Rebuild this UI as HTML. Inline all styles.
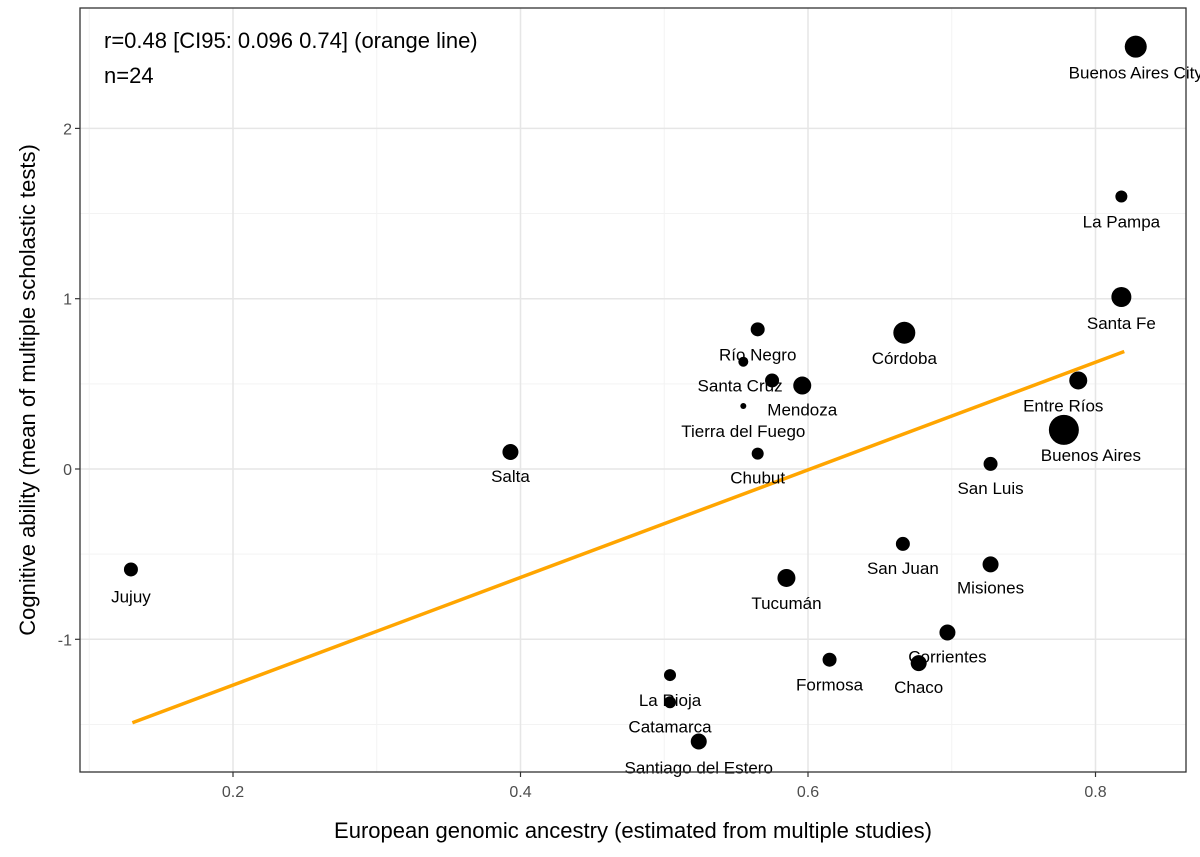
<!DOCTYPE html>
<html><head><meta charset="utf-8"><style>
html,body{margin:0;padding:0;background:#fff}
svg{display:block;font-family:"Liberation Sans",Arial,sans-serif}
</style></head><body>
<svg id="chart" width="1200" height="857"></svg>
<script>
const provinces=["Buenos Aires City","La Pampa","Santa Fe","Córdoba","Entre Ríos","Buenos Aires","San Luis","Río Negro","Santa Cruz","Mendoza","Tierra del Fuego","Chubut","Salta","Jujuy","Tucumán","San Juan","Misiones","Corrientes","Chaco","Formosa","La Rioja","Catamarca","Santiago del Estero"];
const ancestry=[0.828,0.818,0.818,0.667,0.788,0.778,0.727,0.565,0.555,0.596,0.555,0.565,0.393,0.129,0.585,0.666,0.727,0.697,0.677,0.615,0.504,0.504,0.524];
const cognitive=[2.48,1.60,1.01,0.80,0.52,0.23,0.03,0.82,0.63,0.49,0.37,0.09,0.10,-0.59,-0.64,-0.44,-0.56,-0.96,-1.14,-1.12,-1.21,-1.37,-1.60];
const popSize=[11,6,10,11,9,15,7,7,5,9,3,6,8,7,9,7,8,8,8,7,6,6,8];
const pointForLabel=[0,1,2,3,4,5,6,7,8,9,10,11,12,13,14,15,16,17,18,19,20,21,22];
const labelDx=[0,0,0,0,-15,27,0,0,-25,0,0,0,0,0,0,0,0,0,0,0,0,0,0];
const labelDy=[32,31,32,31,31,31,30,-1,31,30,31,30,30,33,31,30,29,30,30,31,31,30,32];
// fix: Río Negro label sits under the top point, Santa Cruz label under (0.575,0.52)
const extraX=[0.575];const extraY=[0.52];const extraR=[7];
const xTicks=[0.2,0.4,0.6,0.8];const yTicks=[-1,0,1,2];
const xMinor=[0.1,0.3,0.5,0.7];const yMinor=[-1.5,-0.5,0.5,1.5];
const lineX=[0.13,0.82];const lineY=[-1.49,0.69];

const L=80,R=1186,T=8,B=772;
const sx=v=>233+(v-0.2)*1437.5;
const sy=v=>469-v*170.3;
const svg=document.getElementById('chart');
const NS='http://www.w3.org/2000/svg';
function mk(tag,at,parent){const e=document.createElementNS(NS,tag);for(const k in at)e.setAttribute(k,at[k]);(parent||svg).appendChild(e);return e;}

xMinor.forEach(v=>{const e=mk('line',{x1:sx(v),x2:sx(v),y1:T,y2:B,stroke:'#f3f3f3','stroke-width':1});

});
yMinor.forEach(v=>{const e=mk('line',{x1:L,x2:R,y1:sy(v),y2:sy(v),stroke:'#f3f3f3','stroke-width':1});

});
xTicks.forEach(v=>{const e=mk('line',{x1:sx(v),x2:sx(v),y1:T,y2:B,stroke:'#e6e6e6','stroke-width':1.5});


const t=mk('line',{x1:sx(v),x2:sx(v),y1:B,y2:B+5,stroke:'#333','stroke-width':1.2});


const l=mk('text',{x:sx(v),y:B+25,'text-anchor':'middle','font-size':16,fill:'#4d4d4d'});l.textContent=v.toFixed(1);

});
yTicks.forEach(v=>{const e=mk('line',{x1:L,x2:R,y1:sy(v),y2:sy(v),stroke:'#e6e6e6','stroke-width':1.5});


const t=mk('line',{x1:L-5,x2:L,y1:sy(v),y2:sy(v),stroke:'#333','stroke-width':1.2});


const l=mk('text',{x:L-8,y:sy(v)+6,'text-anchor':'end','font-size':16,fill:'#4d4d4d'});l.textContent=String(v);

});

const ln=mk('line',{x1:sx(lineX[0]),y1:sy(lineY[0]),x2:sx(lineX[1]),y2:sy(lineY[1]),stroke:'#ffa500','stroke-width':3.5});



provinces.forEach((p,i)=>{
 let px=ancestry[i],py=cognitive[i];
 const c=mk('circle',{cx:sx(px),cy:sy(py),r:popSize[i],fill:'#000'});
 
 
});
extraX.forEach((v,i)=>{const c=mk('circle',{cx:sx(v),cy:sy(extraY[i]),r:extraR[i],fill:'#000'});

});
provinces.forEach((p,i)=>{
 let lx=sx(ancestry[i])+labelDx[i],ly=sy(cognitive[i])+labelDy[i];
 if(p==="Río Negro"){ly=sy(cognitive[i])+31;}
 if(p==="Santa Cruz"){lx=sx(extraX[0])-32;ly=sy(extraY[0])+11;}
 const t=mk('text',{x:lx,y:ly,'text-anchor':'middle','font-size':17,fill:'#000'});t.textContent=p;
 
 
});

const fr=mk('rect',{x:L,y:T,width:R-L,height:B-T,fill:'none',stroke:'#333','stroke-width':1.3});


const a1=mk('text',{x:104,y:48,'font-size':22,fill:'#000'});a1.textContent='r=0.48 [CI95: 0.096 0.74] (orange line)';


const a2=mk('text',{x:104,y:83,'font-size':22,fill:'#000'});a2.textContent='n=24';


const xt=mk('text',{x:633,y:838,'text-anchor':'middle','font-size':22,fill:'#000'});xt.textContent='European genomic ancestry (estimated from multiple studies)';


const yt=mk('text',{x:0,y:0,'text-anchor':'middle','font-size':22,fill:'#000',transform:'translate(35,390) rotate(-90)'});yt.textContent='Cognitive ability (mean of multiple scholastic tests)';


</script>
</body></html>
